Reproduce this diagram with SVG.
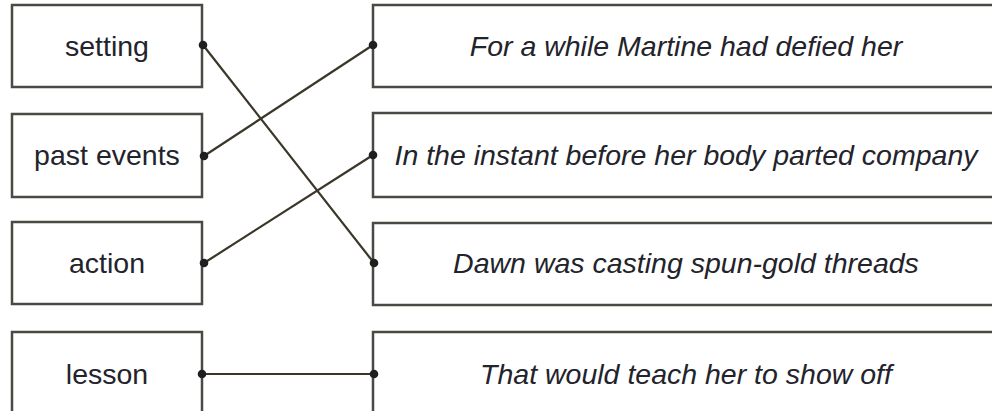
<svg xmlns="http://www.w3.org/2000/svg" width="992" height="411" viewBox="0 0 992 411">
<style>
.box{fill:#fff;stroke:#4a4944;stroke-width:2.5}
.lbl{font-family:"Liberation Sans",Arial,Helvetica,sans-serif;font-size:28.5px;fill:#23232b;text-anchor:middle}
.it{font-style:italic}
.con{stroke:#3b3629;stroke-width:2.2;fill:none}
.dot{fill:#1f1f1f}
</style>
<rect width="992" height="411" fill="#fff"/>
<g id="left-setting"><rect class="box" x="12" y="5" width="190" height="82"/><text class="lbl" x="107" y="56">setting</text></g>
<g id="left-past"><rect class="box" x="12" y="114" width="190" height="83"/><text class="lbl" x="107" y="165">past events</text></g>
<g id="left-action"><rect class="box" x="12" y="222" width="190" height="82"/><text class="lbl" x="107" y="273">action</text></g>
<g id="left-lesson"><rect class="box" x="12" y="332" width="190" height="90"/><text class="lbl" x="107" y="384">lesson</text></g>
<g id="right-1"><rect class="box" x="373" y="5" width="640" height="82"/><text class="lbl it" x="686" y="56">For a while Martine had defied her</text></g>
<g id="right-2"><rect class="box" x="373" y="113" width="640" height="84"/><text class="lbl it" x="686" y="165">In the instant before her body parted company</text></g>
<g id="right-3"><rect class="box" x="373" y="223" width="640" height="82"/><text class="lbl it" x="686" y="273">Dawn was casting spun-gold threads</text></g>
<g id="right-4"><rect class="box" x="373" y="332" width="640" height="90"/><text class="lbl it" x="686" y="384">That would teach her to show off</text></g>
<g id="connectors">
<line class="con" x1="203" y1="45" x2="374" y2="263"/>
<line class="con" x1="204" y1="156" x2="373" y2="45"/>
<line class="con" x1="204" y1="263" x2="373" y2="155"/>
<line class="con" x1="202" y1="374" x2="374" y2="374"/>
<circle class="dot" cx="203" cy="45" r="4.3"/>
<circle class="dot" cx="204" cy="156" r="4.3"/>
<circle class="dot" cx="204" cy="263" r="4.3"/>
<circle class="dot" cx="202" cy="374" r="4.3"/>
<circle class="dot" cx="373" cy="45" r="4.3"/>
<circle class="dot" cx="373" cy="155" r="4.3"/>
<circle class="dot" cx="374" cy="263" r="4.3"/>
<circle class="dot" cx="374" cy="374" r="4.3"/>
</g>
</svg>
